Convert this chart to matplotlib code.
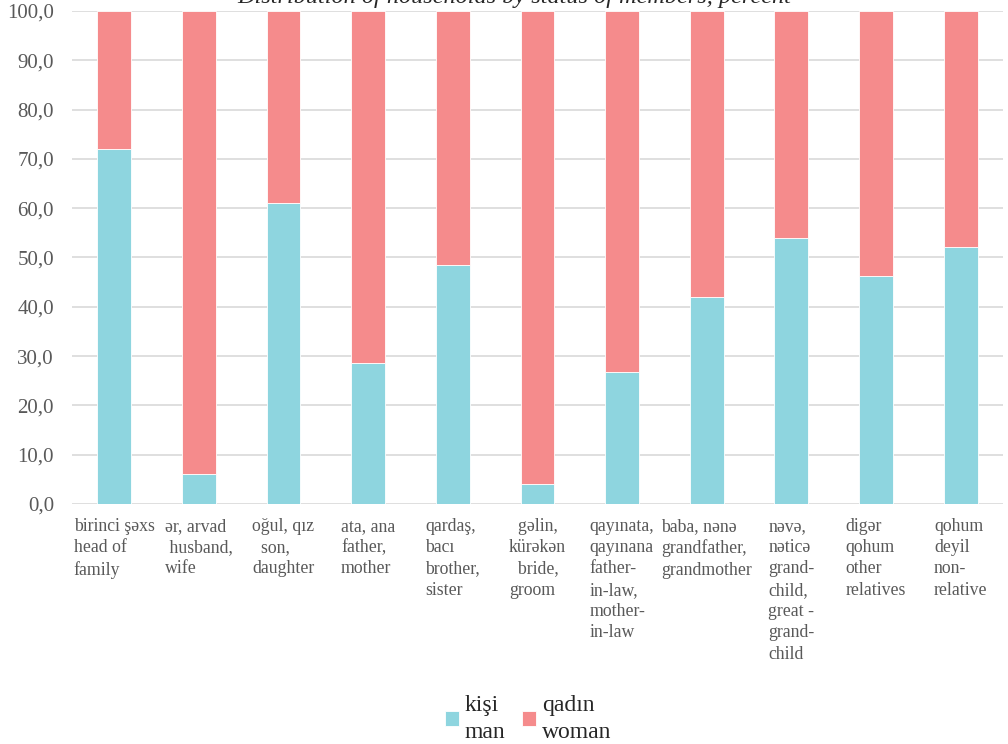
import matplotlib.pyplot as plt

categories = [
    "birinci şəxs\nhead of\nfamily",
    "ər, arvad\n husband,\nwife",
    "oğul, qız\n  son,\ndaughter",
    "ata, ana\nfather,\nmother",
    "qardaş,\nbacı\nbrother,\nsister",
    "  gəlin,\nkürəkən\n  bride,\ngroom",
    "qayınata,\nqayınana\nfather-\nin-law,\nmother-\nin-law",
    "baba, nənə\ngrandfather,\ngrandmother",
    "nəvə,\nnəticə\ngrand-\nchild,\ngreat -\ngrand-\nchild",
    "digər\nqohum\nother\nrelatives",
    "qohum\ndeyil\nnon-\nrelative",
]
man = [72.0, 6.0, 61.0, 28.7, 48.5, 4.0, 26.8, 42.0, 54.0, 46.2, 52.2]
woman = [100 - v for v in man]
yticks = [0, 10, 20, 30, 40, 50, 60, 70, 80, 90, 100]

cyan = "#8ed5df"
pink = "#f58b8c"
grey = "#595959"
serif = ["Liberation Serif", "DejaVu Serif"]

fig = plt.figure(figsize=(10.08, 7.44), dpi=100)
ax = fig.add_axes([0.0714, 0.3226, 0.9236, 0.6626])

x = list(range(len(categories)))
ax.bar(x, man, width=0.4, color=cyan, edgecolor="white", linewidth=0.6, label="kişi\nman", zorder=3)
ax.bar(x, woman, width=0.4, bottom=man, color=pink, edgecolor="white", linewidth=0.6,
       label="qadın\nwoman", zorder=3)

ax.set_xlim(-0.5, len(categories) - 0.5)
ax.set_ylim(0, 100)
ax.set_yticks(yticks)
ax.set_yticklabels([f"{v:.1f}".replace(".", ",") for v in yticks], family=serif,
                   fontsize=15, color=grey)
ax.set_xticks([])
ax.tick_params(axis="y", length=0, pad=13)
ax.grid(axis="y", color="#d9d9d9", linewidth=1.2, zorder=0)
for s in ax.spines.values():
    s.set_visible(False)

for i, lab in enumerate(categories):
    ax.text(i, -2.8, lab, ha="center", va="top", multialignment="left",
            family=serif, fontsize=12.8, color=grey, linespacing=1.33,
            transform=ax.transData)

leg = ax.legend(loc="upper center", bbox_to_anchor=(0.49, -0.345), ncol=2, frameon=False,
                prop={"family": serif, "size": 17}, handlelength=0.6, handleheight=0.6,
                handletextpad=0.25, columnspacing=0.7, labelcolor="#262626")
for t in leg.get_texts():
    t.set_linespacing(1.35)

fig.text(0.51, 1.003, "Distribution of households by status of members, percent",
         ha="center", va="center", family=serif, style="italic", fontsize=17.5,
         color="#262626")

fig.savefig("out.png", dpi=100)
